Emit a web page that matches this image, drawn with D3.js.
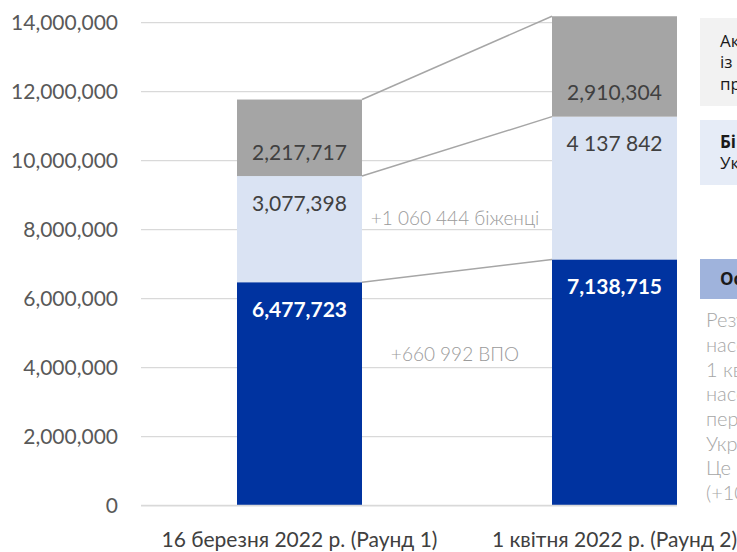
<!DOCTYPE html>
<html>
<head>
<meta charset="utf-8">
<script src="https://cdn.jsdelivr.net/npm/d3@7"></script>
<style>
  html, body { margin: 0; padding: 0; background: #fff; overflow: hidden; }
  svg { display: block; }
</style>
</head>
<body>
<svg id="chart" width="737" height="552"></svg>
<script>
// ---- data ----
const categories = ["16 березня 2022 р. (Раунд 1)", "1 квітня 2022 р. (Раунд 2)"];
const seriesNames = ["ВПО", "Біженці", "Актуальне населення"];
const idpValues = [6477723, 7138715];
const refugeeValues = [3077398, 4137842];
const grayValues = [2217717, 2910304];
const dataLabels = [
  ["6,477,723", "7,138,715"],
  ["3,077,398", "4 137 842"],
  ["2,217,717", "2,910,304"]
];
const yTicks = [0, 2000000, 4000000, 6000000, 8000000, 10000000, 12000000, 14000000];
const annotations = ["+1 060 444 біженці", "+660 992 ВПО"];
const sideBoxLines = [["Ак", "із", "пр"], ["Бі", "Ук"], ["Ос"]];
const sideParagraph = ["Резу", "насе", "1 кв", "насе", "пер", "Укр", "Це", "(+10"];

// ---- setup ----
const svg = d3.select("#chart");
const colors = ["#0033a0", "#dae3f3", "#a5a5a5"];
const labelColors = ["#ffffff", "#404040", "#404040"];

const y = d3.scaleLinear().domain([0, 14000000]).range([505.7, 22.7]);
const x = d3.scaleBand().domain(categories).range([142, 772]).padding(0);
const barW = 125;
const barX = c => x(c) + (x.bandwidth() - barW) / 2;
const gridX0 = 141, gridX1 = barX(categories[1]) + barW;

// gridlines
svg.append("g").selectAll("line").data(yTicks.slice(1)).join("line")
  .attr("x1", gridX0).attr("x2", gridX1)
  .attr("y1", d => y(d)).attr("y2", d => y(d))
  .attr("stroke", "#d9d9d9").attr("stroke-width", 1.3);

// y axis labels
const yAxis = d3.axisLeft(y).tickValues(yTicks).tickSize(0).tickPadding(0)
  .tickFormat(d3.format(","));
const ya = svg.append("g").attr("transform", "translate(118,0)").call(yAxis);
ya.select(".domain").remove();
ya.selectAll("text").attr("font-family", "Lato, sans-serif").attr("font-size", 21)
  .attr("fill", "#595959");

// stacked data
const series = [idpValues, refugeeValues, grayValues];
const stackRows = categories.map((c, i) => ({cat: c, s0: series[0][i], s1: series[1][i], s2: series[2][i]}));
const stacked = d3.stack().keys(["s0", "s1", "s2"])(stackRows);

// bars
stacked.forEach((layer, li) => {
  svg.append("g").selectAll("rect").data(layer).join("rect")
    .attr("x", d => barX(d.data.cat))
    .attr("width", barW)
    .attr("y", d => y(d[1]))
    .attr("height", d => y(d[0]) - y(d[1]))
    .attr("fill", colors[li]);
});

// x axis baseline
svg.append("line").attr("x1", gridX0).attr("x2", gridX1)
  .attr("y1", y(0)).attr("y2", y(0))
  .attr("stroke", "#d9d9d9").attr("stroke-width", 1.8);

// connector lines (between cumulative tops)
stacked.forEach(layer => {
  svg.append("line")
    .attr("x1", barX(categories[0]) + barW).attr("y1", y(layer[0][1]))
    .attr("x2", barX(categories[1])).attr("y2", y(layer[1][1]))
    .attr("stroke", "#a6a6a6").attr("stroke-width", 1.5);
});

// data labels
stacked.forEach((layer, li) => {
  svg.append("g").selectAll("text").data(layer).join("text")
    .attr("x", d => barX(d.data.cat) + barW / 2)
    .attr("y", (d) => li === 2 ? y(d[0]) - 24 : y(d[1]) + 27)
    .attr("dy", "0.36em")
    .attr("text-anchor", "middle")
    .attr("font-family", "Lato, sans-serif")
    .attr("font-size", 21)
    .attr("font-weight", li === 0 ? 700 : 400)
    .attr("fill", labelColors[li])
    .text((d, i) => dataLabels[li][i]);
});

// annotations between bars
const midX = (barX(categories[0]) + barW + barX(categories[1])) / 2;
const annY = [218, 354];
annotations.forEach((t, i) => {
  svg.append("text").attr("x", midX - 2).attr("y", annY[i]).attr("dy", "0.36em")
    .attr("text-anchor", "middle")
    .attr("font-family", "Lato, sans-serif").attr("font-weight", 300)
    .attr("font-size", 19).attr("fill", "#9a9a9a")
    .text(t);
});

// x category labels
svg.append("g").selectAll("text").data(categories).join("text")
  .attr("x", d => barX(d) + barW / 2)
  .attr("y", 539).attr("dy", "0.36em")
  .attr("text-anchor", "middle")
  .attr("font-family", "Lato, sans-serif").attr("font-size", 21)
  .attr("fill", "#404040")
  .text(d => d);

// right side boxes (cropped legend/notes)
const boxes = [
  {y0: 18, y1: 106, fill: "#f2f2f2", bold: false},
  {y0: 120, y1: 185, fill: "#e6ecf7", bold: true},
  {y0: 259, y1: 299, fill: "#9fb3dc", bold: true}
];
boxes.forEach((b, bi) => {
  svg.append("rect").attr("x", 700).attr("y", b.y0).attr("width", 60)
    .attr("height", b.y1 - b.y0).attr("fill", b.fill);
  const lines = sideBoxLines[bi];
  const n = lines.length;
  const lh = 21.5;
  const cy = (b.y0 + b.y1) / 2;
  lines.forEach((t, li) => {
    svg.append("text").attr("x", 720)
      .attr("y", cy + (li - (n - 1) / 2) * lh).attr("dy", "0.36em")
      .attr("font-family", "'Open Sans', sans-serif").attr("font-size", 17)
      .attr("font-weight", (b.bold && li === 0) ? 700 : 400)
      .attr("fill", "#1a1a1a")
      .text(t);
  });
});
sideParagraph.forEach((t, i) => {
  svg.append("text").attr("x", 706).attr("y", 320 + i * 24.7).attr("dy", "0.36em")
    .attr("font-family", "Lato, sans-serif").attr("font-weight", 300)
    .attr("font-size", 20).attr("fill", "#a6a6a6")
    .text(t);
});
</script>
</body>
</html>
